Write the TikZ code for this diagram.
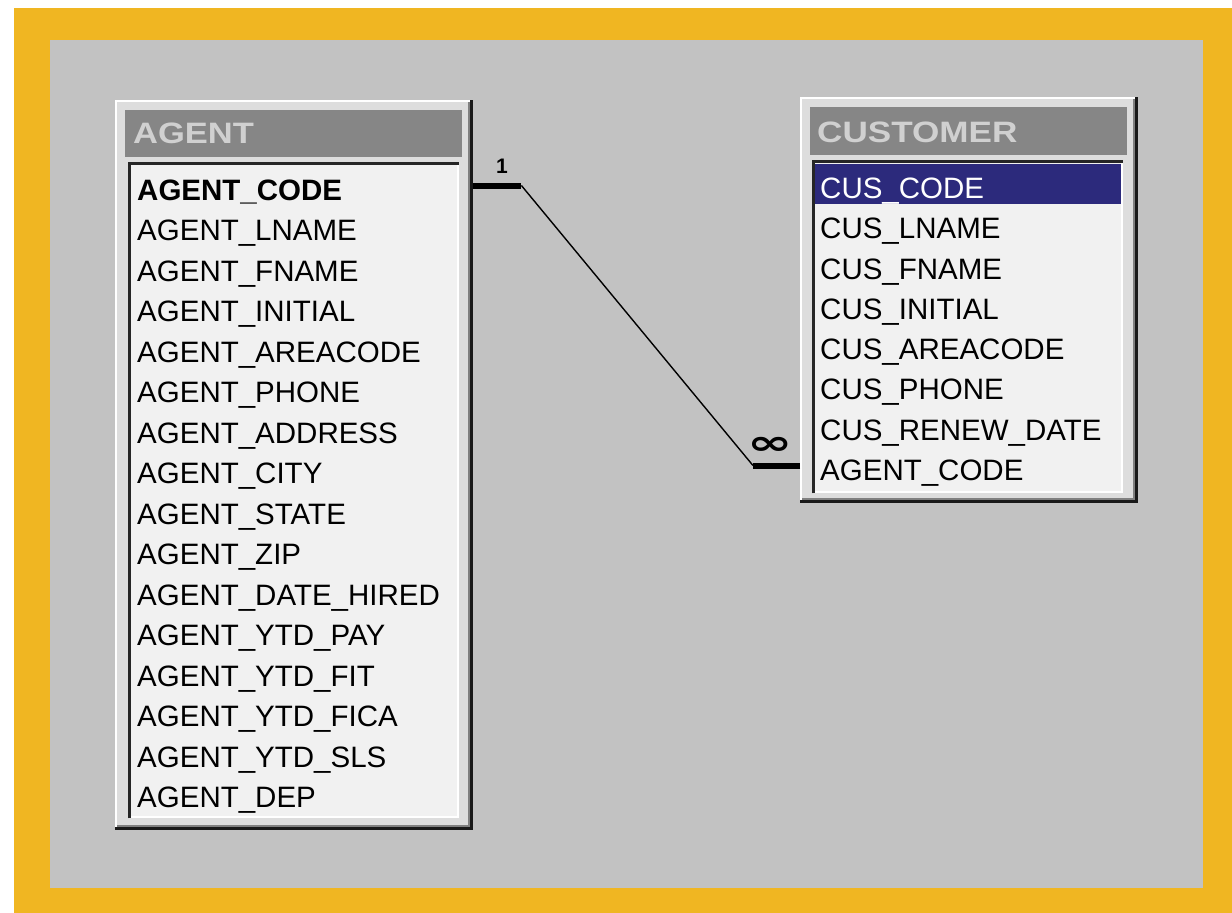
\documentclass[tikz,border=0pt]{standalone}
\usepackage{fontspec}
\usepackage{graphicx}
\setmainfont{Liberation Sans}
\newfontfamily\symfont{DejaVu Sans}

\definecolor{frameorange}{HTML}{F0B622}
\definecolor{canvasgray}{HTML}{C2C2C2}
\definecolor{panelgray}{HTML}{DDDDDD}
\definecolor{headgray}{HTML}{868686}
\definecolor{headtext}{HTML}{D0D0D0}
\definecolor{listbg}{HTML}{F1F1F1}
\definecolor{selnavy}{HTML}{2C2A7C}

\tikzset{
  window/.style={fill=panelgray, draw=none, inner sep=0pt, anchor=north west},
  headbar/.style={fill=headgray, draw=none, inner sep=0pt, anchor=north west},
  fieldlist/.style={fill=listbg, draw=none, inner sep=0pt, anchor=north west},
  title/.style={anchor=base west, inner sep=0pt, text=headtext,
    font=\fontsize{29.5}{30}\selectfont\bfseries},
  field/.style={anchor=base west, inner sep=0pt, text=black,
    font=\fontsize{29.5}{30}\selectfont},
  keyfield/.style={field, font=\fontsize{29.5}{30}\selectfont\bfseries},
  bar/.style={line width=6pt, black},
  link/.style={line width=1.4pt, black},
}

% raised 3D edge round a window node
\newcommand\raisededge[1]{%
  \draw[white, line width=2pt]
    ([shift={(1pt,1pt)}]#1.south west) -- ([shift={(1pt,-1pt)}]#1.north west)
    -- ([shift={(-1pt,-1pt)}]#1.north east);
  \draw[black!50, line width=2pt]
    ([shift={(-4pt,-2pt)}]#1.north east) -- ([shift={(-4pt,4pt)}]#1.south east)
    -- ([shift={(2pt,4pt)}]#1.south west);
  \draw[black!90, line width=3pt]
    ([shift={(-1.5pt,0pt)}]#1.north east) -- ([shift={(-1.5pt,1.5pt)}]#1.south east)
    -- ([shift={(0pt,1.5pt)}]#1.south west);
}
% sunken edge round a field list
\newcommand\sunkenedge[1]{%
  \draw[black!85, line width=3pt]
    ([shift={(1.5pt,0pt)}]#1.south west) -- ([shift={(1.5pt,-1.5pt)}]#1.north west)
    -- ([shift={(0pt,-1.5pt)}]#1.north east);
  \draw[white, line width=2pt]
    ([shift={(-1pt,-3pt)}]#1.north east) -- ([shift={(-1pt,1pt)}]#1.south east)
    -- ([shift={(3pt,1pt)}]#1.south west);
}

\begin{document}
\begin{tikzpicture}[x=1pt,y=-1pt]
\useasboundingbox (0,0) rectangle (1232,913);
\fill[white] (0,0) rectangle (1232,913);
\fill[frameorange] (14,8) rectangle (1232,913);
\fill[canvasgray] (50,40) rectangle (1203,888);

% ---------- AGENT table ----------
\node[window, minimum width=358pt, minimum height=730pt] (agent) at (115,100) {};
\raisededge{agent}
\node[headbar, minimum width=337pt, minimum height=47pt] (agenthead) at (125,110) {};
\node[title] (agenttitle) at (133,143) {\scalebox{1.17}[1]{AGENT}};
\node[fieldlist, minimum width=331pt, minimum height=656pt] (agentlist) at (128,162) {};
\sunkenedge{agentlist}

\node[keyfield] (a1) at (137,200.5) {AGENT\_CODE};
\foreach \t [count=\i from 2] in {AGENT\_LNAME, AGENT\_FNAME, AGENT\_INITIAL,
    AGENT\_AREACODE, AGENT\_PHONE, AGENT\_ADDRESS, AGENT\_CITY, AGENT\_STATE,
    AGENT\_ZIP, AGENT\_DATE\_HIRED, AGENT\_YTD\_PAY, AGENT\_YTD\_FIT,
    AGENT\_YTD\_FICA, AGENT\_YTD\_SLS, AGENT\_DEP}
  \node[field] (a\i) at (137,{200.5+(\i-1)*40.47}) {\t};

% ---------- CUSTOMER table ----------
\node[window, minimum width=338pt, minimum height=406pt] (customer) at (800,97) {};
\raisededge{customer}
\node[headbar, minimum width=317pt, minimum height=48pt] (customerhead) at (810,107) {};
\node[title] (customertitle) at (817,142) {\scalebox{1.19}[1]{CUSTOMER}};
\node[fieldlist, minimum width=311pt, minimum height=333pt] (customerlist) at (812,160) {};
\sunkenedge{customerlist}
\node[fill=selnavy, inner sep=0pt, anchor=north west,
      minimum width=306pt, minimum height=40pt] (selrow) at (815,164) {};

\node[field, text=white] (c1) at (820,198.5) {CUS\_CODE};
\foreach \t [count=\i from 2] in {CUS\_LNAME, CUS\_FNAME, CUS\_INITIAL,
    CUS\_AREACODE, CUS\_PHONE, CUS\_RENEW\_DATE, AGENT\_CODE}
  \node[field] (c\i) at (820,{198.5+(\i-1)*40.29}) {\t};

% ---------- relationship AGENT 1 -- many CUSTOMER ----------
\path (agent.east |- a1.base) ++(0,-15) coordinate (s1);
\draw[bar] (s1) -- ++(48,0) coordinate (j1);
\path (customer.west |- c8.base) ++(0,-15) coordinate (s2);
\draw[bar] (s2) -- ++(-47,0) coordinate (j2);
\draw[link] (j1) -- (j2);
\node[font=\fontsize{21}{21}\selectfont\bfseries, inner sep=0pt] (one) at (502,166) {1};
\node[font=\symfont\fontsize{34}{34}\selectfont\bfseries, inner sep=0pt] (many) at (770,446)
  {\scalebox{1.6}[1]{∞}};
\end{tikzpicture}
\end{document}
